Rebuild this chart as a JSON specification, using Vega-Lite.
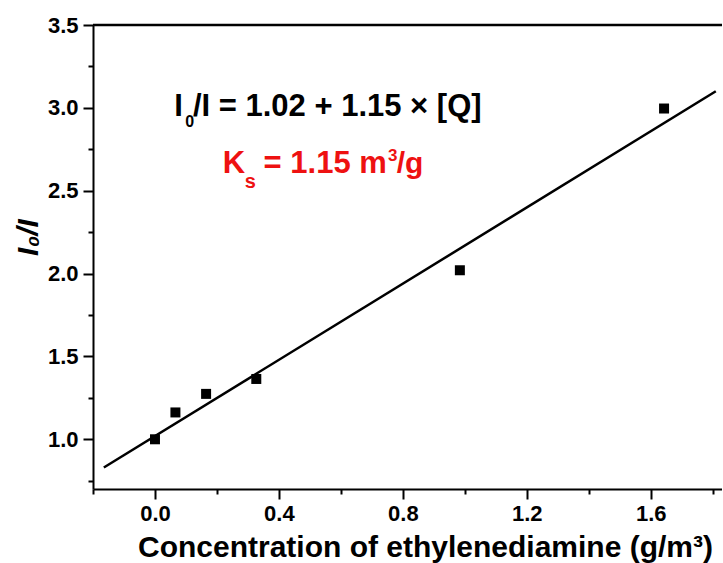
{
  "$schema": "https://vega.github.io/schema/vega-lite/v6.json",
  "width": 629,
  "height": 464,
  "autosize": {"type": "none"},
  "padding": {"left": 93, "top": 25, "right": 0, "bottom": 74},
  "background": "white",
  "datasets": {
    "points": [
      {"conc": 0.0, "ratio": 1.0},
      {"conc": 0.066, "ratio": 1.162},
      {"conc": 0.165, "ratio": 1.274},
      {"conc": 0.327, "ratio": 1.364},
      {"conc": 0.984, "ratio": 2.02},
      {"conc": 1.643, "ratio": 2.996}
    ],
    "fit": [
      {"conc": -0.165, "ratio": 0.83},
      {"conc": 1.81, "ratio": 3.1}
    ],
    "frame": [{"ratio": 3.5}],
    "one": [{"k": 1}]
  },
  "layer": [
    {
      "data": {"name": "frame"},
      "mark": {"type": "rule", "stroke": "black", "strokeWidth": 2.5, "clip": false},
      "encoding": {
        "y": {"field": "ratio", "type": "quantitative", "title": "I₀/I"}
      }
    },
    {
      "data": {"name": "fit"},
      "mark": {"type": "line", "color": "black", "strokeWidth": 2.5},
      "encoding": {
        "x": {"field": "conc", "type": "quantitative", "title": "Concentration of ethylenediamine (g/m³)"},
        "y": {"field": "ratio", "type": "quantitative", "title": "I₀/I"}
      }
    },
    {
      "data": {"name": "points"},
      "mark": {"type": "point", "shape": "square", "filled": true, "color": "black", "size": 100, "opacity": 1},
      "encoding": {
        "x": {
          "field": "conc", "type": "quantitative",
          "title": "Concentration of ethylenediamine (g/m³)",
          "scale": {"domain": [-0.2, 1.83], "nice": false, "zero": false},
          "axis": {
            "values": [-0.2, 0, 0.2, 0.4, 0.6, 0.8, 1.0, 1.2, 1.4, 1.6, 1.8],
            "labelExpr": "abs(datum.value*2.5 - round(datum.value*2.5)) < 0.001 ? format(datum.value, '.1f') : ''",
            "tickSize": {"condition": {"test": "abs(datum.value*2.5 - round(datum.value*2.5)) < 0.001", "value": 10}, "value": 5},
            "labelFontSize": 22,
            "labelFont": "Liberation Sans",
            "labelFontWeight": "bold",
            "labelPadding": 4,
            "labelOverlap": false,
            "titleX": 332,
            "titleY": 58,
            "titleBaseline": "middle",
            "titleAlign": "center"
          }
        },
        "y": {
          "field": "ratio", "type": "quantitative",
          "title": "I₀/I",
          "scale": {"domain": [0.7, 3.5], "nice": false, "zero": false},
          "axis": {
            "values": [0.75, 1.0, 1.25, 1.5, 1.75, 2.0, 2.25, 2.5, 2.75, 3.0, 3.25, 3.5],
            "labelExpr": "abs(datum.value*2 - round(datum.value*2)) < 0.001 ? format(datum.value, '.1f') : ''",
            "tickSize": {"condition": {"test": "abs(datum.value*2 - round(datum.value*2)) < 0.001", "value": 10}, "value": 5},
            "labelFontSize": 22,
            "labelFont": "Liberation Sans",
            "labelFontWeight": "bold",
            "labelPadding": 5,
            "labelOverlap": false,
            "titleFontStyle": "italic",
            "titleX": -65,
            "titleY": 212,
            "titleAngle": -90,
            "titleBaseline": "middle",
            "titleAlign": "center"
          }
        }
      }
    },
    {
      "data": {"name": "one"},
      "mark": {"type": "text", "text": "I", "align": "left", "baseline": "alphabetic", "fontSize": 31, "fontWeight": "bold", "color": "black"},
      "encoding": {"x": {"datum": 0.0626, "type": "quantitative"}, "y": {"datum": 2.952, "type": "quantitative"}}
    },
    {
      "data": {"name": "one"},
      "mark": {"type": "text", "text": "0", "align": "left", "baseline": "alphabetic", "fontSize": 16, "fontWeight": "bold", "color": "black"},
      "encoding": {"x": {"datum": 0.0981, "type": "quantitative"}, "y": {"datum": 2.887, "type": "quantitative"}}
    },
    {
      "data": {"name": "one"},
      "mark": {"type": "text", "text": "/I = 1.02 + 1.15 × [Q]", "align": "left", "baseline": "alphabetic", "fontSize": 31, "fontWeight": "bold", "color": "black"},
      "encoding": {"x": {"datum": 0.1226, "type": "quantitative"}, "y": {"datum": 2.952, "type": "quantitative"}}
    },
    {
      "data": {"name": "one"},
      "mark": {"type": "text", "text": "K", "align": "left", "baseline": "alphabetic", "fontSize": 31, "fontWeight": "bold", "color": "#ee1111"},
      "encoding": {"x": {"datum": 0.2184, "type": "quantitative"}, "y": {"datum": 2.606, "type": "quantitative"}}
    },
    {
      "data": {"name": "one"},
      "mark": {"type": "text", "text": "s", "align": "left", "baseline": "alphabetic", "fontSize": 20, "fontWeight": "bold", "color": "#ee1111"},
      "encoding": {"x": {"datum": 0.2894, "type": "quantitative"}, "y": {"datum": 2.519, "type": "quantitative"}}
    },
    {
      "data": {"name": "one"},
      "mark": {"type": "text", "text": "= 1.15 m", "align": "left", "baseline": "alphabetic", "fontSize": 31, "fontWeight": "bold", "color": "#ee1111"},
      "encoding": {"x": {"datum": 0.3506, "type": "quantitative"}, "y": {"datum": 2.606, "type": "quantitative"}}
    },
    {
      "data": {"name": "one"},
      "mark": {"type": "text", "text": "3", "align": "left", "baseline": "alphabetic", "fontSize": 17, "fontWeight": "bold", "color": "#ee1111"},
      "encoding": {"x": {"datum": 0.7523, "type": "quantitative"}, "y": {"datum": 2.682, "type": "quantitative"}}
    },
    {
      "data": {"name": "one"},
      "mark": {"type": "text", "text": "/g", "align": "left", "baseline": "alphabetic", "fontSize": 30, "fontWeight": "bold", "color": "#ee1111"},
      "encoding": {"x": {"datum": 0.78, "type": "quantitative"}, "y": {"datum": 2.606, "type": "quantitative"}}
    }
  ],
  "config": {
    "view": {"stroke": null},
    "font": "Liberation Sans",
    "text": {"font": "Liberation Sans"},
    "axis": {
      "grid": false,
      "domainColor": "black",
      "domainWidth": 2,
      "tickColor": "black",
      "tickWidth": 2,
      "labelColor": "black",
      "titleFont": "Liberation Sans",
      "titleFontWeight": "bold",
      "titleFontSize": 30,
      "titleColor": "black"
    },
    "style": {"guide-label": {"fontSize": 22, "fontWeight": "bold", "font": "Liberation Sans"}}
  }
}
